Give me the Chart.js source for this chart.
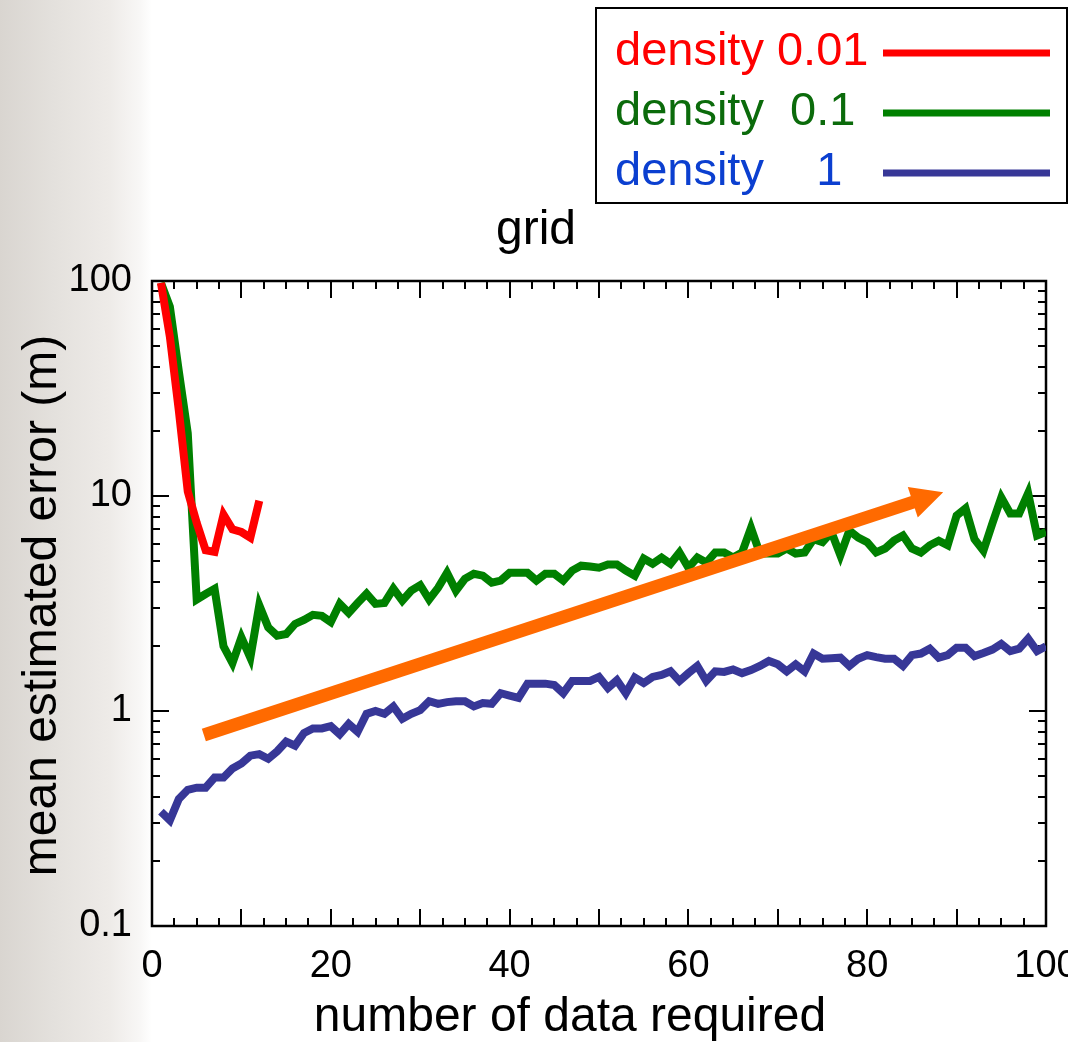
<!DOCTYPE html>
<html><head><meta charset="utf-8">
<script src="https://cdn.jsdelivr.net/npm/chart.js@4/dist/chart.umd.min.js"></script>
<style>
html,body{margin:0;padding:0;}
body{width:1068px;height:1042px;overflow:hidden;background:linear-gradient(to right,#d9d5d0 0px,#e3e0dc 50px,#eeebe8 110px,#f8f7f6 140px,#ffffff 152px);}
#wrap{position:relative;width:1068px;height:1042px;}
</style></head><body><div id="wrap"><canvas id="c" width="1068" height="1042"></canvas></div>
<script>
const xTickLabels = [0, 20, 40, 60, 80, 100];
const yTickValues = [0.1, 1, 10, 100];
const seriesLabels = ['density 0.01', 'density  0.1', 'density    1'];
const chartTitle = 'grid';
const xTitle = 'number of data required';
const yTitle = 'mean estimated error (m)';

// x = 1, 2, 3, ... (number of data required)
const density001 = [98, 55, 25, 10.5, 7.5, 5.6, 5.5, 8.2, 7.0, 6.8, 6.4, 9.5];
const density01 = [98, 76, 38, 19.6, 3.3, 3.5, 3.7, 2.0, 1.67, 2.2,
  1.77, 3.1, 2.45, 2.24, 2.28, 2.54, 2.65, 2.8, 2.77, 2.59,
  3.15, 2.86, 3.18, 3.51, 3.15, 3.18, 3.71, 3.26, 3.63, 3.85,
  3.3, 3.74, 4.39, 3.63, 4.12, 4.35, 4.26, 3.95, 4.04, 4.39,
  4.39, 4.39, 4.04, 4.35, 4.35, 4.04, 4.5, 4.74, 4.7, 4.64,
  4.8, 4.8, 4.5, 4.26, 5.12, 4.84, 5.17, 4.84, 5.46, 4.64,
  5.17, 4.9, 5.46, 5.46, 5.17, 5.46, 7.1, 5.4, 5.4, 5.4,
  5.7, 5.4, 5.46, 6.3, 6.1, 6.8, 5.3, 6.9, 6.4, 6.1,
  5.46, 5.7, 6.2, 6.55, 5.7, 5.46, 5.9, 6.2, 5.9, 8.1,
  8.75, 6.3, 5.57, 7.45, 9.85, 8.3, 8.3, 10.3, 6.55, 6.8];
const density1 = [0.34, 0.31, 0.39, 0.43, 0.44, 0.44, 0.49, 0.49, 0.54, 0.57,
  0.62, 0.63, 0.60, 0.65, 0.72, 0.69, 0.79, 0.83, 0.83, 0.85,
  0.78, 0.87, 0.80, 0.97, 1.0, 0.97, 1.05, 0.92, 0.97, 1.01,
  1.11, 1.08, 1.10, 1.11, 1.11, 1.05, 1.09, 1.08, 1.21, 1.18,
  1.15, 1.34, 1.34, 1.34, 1.32, 1.21, 1.38, 1.38, 1.38, 1.44,
  1.28, 1.39, 1.21, 1.43, 1.35, 1.44, 1.47, 1.53, 1.38, 1.5,
  1.62, 1.38, 1.53, 1.52, 1.56, 1.5, 1.55, 1.62, 1.71, 1.65,
  1.53, 1.65, 1.53, 1.85, 1.75, 1.76, 1.77, 1.62, 1.75, 1.82,
  1.78, 1.75, 1.75, 1.62, 1.82, 1.85, 1.95, 1.77, 1.82, 1.97,
  1.97, 1.8, 1.86, 1.93, 2.05, 1.9, 1.95, 2.17, 1.9, 2.0];

// trend arrow, in data units [x, y]
const arrowFrom = [5.8, 0.773];
const arrowTo = [88.5, 10.4];

const lineColors = ['#ff0000', '#008000', '#373797'];
const textColors = ['#ff0000', '#0b6b0b', '#0b3fd0'];
const FONT = '"Liberation Sans", Arial, Helvetica, sans-serif';

function toPoints(arr) { return arr.map((v, i) => ({x: i + 1, y: v})); }

const decorPlugin = {
  id: 'decor',
  beforeDatasetsDraw(chart) {
    const ctx = chart.ctx;
    const xs = chart.scales.x, ys = chart.scales.y;
    const {left, right, top, bottom} = chart.chartArea;
    ctx.save();
    ctx.strokeStyle = '#000';
    ctx.lineWidth = 2;
    ctx.lineCap = 'butt';
    ctx.beginPath();
    for (let v = xs.min; v <= xs.max + 1e-9; v += 2.5) {
      const px = Math.round(xs.getPixelForValue(v));
      const L = (Math.abs(v % 10) < 1e-9) ? 17 : 8;
      ctx.moveTo(px, bottom); ctx.lineTo(px, bottom - L);
      ctx.moveTo(px, top); ctx.lineTo(px, top + L);
    }
    for (let d = 0.1; d < 100; d *= 10) {
      for (let m = 1; m <= 10; m++) {
        const v = d * m;
        const py = Math.round(ys.getPixelForValue(v));
        const L = (m === 1 || m === 10) ? 17 : 8;
        ctx.moveTo(left, py); ctx.lineTo(left + L, py);
        ctx.moveTo(right, py); ctx.lineTo(right - L, py);
      }
    }
    ctx.stroke();
    ctx.lineWidth = 2.5;
    ctx.strokeRect(left, top, right - left, bottom - top);
    ctx.restore();
  },
  afterDatasetsDraw(chart) {
    const ctx = chart.ctx;
    const xs = chart.scales.x, ys = chart.scales.y;
    const x0 = xs.getPixelForValue(arrowFrom[0]), y0 = ys.getPixelForValue(arrowFrom[1]);
    const x1 = xs.getPixelForValue(arrowTo[0]), y1 = ys.getPixelForValue(arrowTo[1]);
    const dx = x1 - x0, dy = y1 - y0, len = Math.hypot(dx, dy);
    const ux = dx / len, uy = dy / len, nx = -uy, ny = ux;
    const headLen = 32, headHalf = 16;
    const bx = x1 - ux * headLen, by = y1 - uy * headLen;
    ctx.save();
    ctx.strokeStyle = '#ff6a00';
    ctx.fillStyle = '#ff6a00';
    ctx.lineWidth = 13;
    ctx.lineCap = 'butt';
    ctx.beginPath();
    ctx.moveTo(x0, y0);
    ctx.lineTo(bx + ux * 2, by + uy * 2);
    ctx.stroke();
    ctx.beginPath();
    ctx.moveTo(x1, y1);
    ctx.lineTo(bx + nx * headHalf, by + ny * headHalf);
    ctx.lineTo(bx - nx * headHalf, by - ny * headHalf);
    ctx.closePath();
    ctx.fill();
    ctx.restore();
  },
  afterDraw(chart) {
    const ctx = chart.ctx;
    const {left, right, top, bottom} = chart.chartArea;
    ctx.save();
    // title
    ctx.fillStyle = '#000';
    ctx.font = '48px ' + FONT;
    ctx.textAlign = 'center';
    ctx.textBaseline = 'alphabetic';
    ctx.fillText(chartTitle, 536, 244);
    // x title
    ctx.fillText(xTitle, 570, 1031);
    // y title
    ctx.save();
    ctx.translate(56, (top + bottom) / 2 + 2);
    ctx.rotate(-Math.PI / 2);
    ctx.fillText(yTitle, 0, 0);
    ctx.restore();
    // legend box
    ctx.fillStyle = '#fff';
    ctx.fillRect(596, 8, 471, 195);
    ctx.strokeStyle = '#000';
    ctx.lineWidth = 2;
    ctx.strokeRect(596, 8, 471, 195);
    ctx.textAlign = 'left';
    chart.data.datasets.forEach((ds, i) => {
      const yBase = 65 + i * 60;
      ctx.fillStyle = textColors[i];
      ctx.font = '47px ' + FONT;
      ctx.fillText(ds.label, 615, yBase);
      ctx.strokeStyle = ds.borderColor;
      ctx.lineWidth = 7;
      ctx.beginPath();
      ctx.moveTo(883, yBase - 12);
      ctx.lineTo(1050, yBase - 12);
      ctx.stroke();
    });
    ctx.restore();
  }
};

new Chart(document.getElementById('c'), {
  type: 'line',
  data: {
    datasets: [
      {label: seriesLabels[0], data: toPoints(density001), borderColor: lineColors[0], borderWidth: 8, pointRadius: 0, fill: false, tension: 0},
      {label: seriesLabels[1], data: toPoints(density01), borderColor: lineColors[1], borderWidth: 8, pointRadius: 0, fill: false, tension: 0},
      {label: seriesLabels[2], data: toPoints(density1), borderColor: lineColors[2], borderWidth: 8, pointRadius: 0, fill: false, tension: 0}
    ]
  },
  options: {
    responsive: false,
    animation: false,
    devicePixelRatio: 1,
    layout: {padding: {top: 281, right: 22, left: 0, bottom: 0}},
    plugins: {legend: {display: false}, title: {display: false}, tooltip: {enabled: false}},
    scales: {
      x: {
        type: 'linear', min: 0, max: 100,
        grid: {display: false, drawTicks: false},
        border: {display: false},
        afterBuildTicks: s => { s.ticks = xTickLabels.map(v => ({value: v})); },
        ticks: {font: {family: FONT, size: 38}, color: '#000', padding: 18, maxRotation: 0, autoSkip: false},
        afterFit: s => { s.height = 116; s.paddingLeft = 0; s.paddingRight = 0; }
      },
      y: {
        type: 'logarithmic', min: 0.1, max: 100,
        grid: {display: false, drawTicks: false},
        border: {display: false},
        afterBuildTicks: s => { s.ticks = yTickValues.map(v => ({value: v})); },
        ticks: {font: {family: FONT, size: 38}, color: '#000', padding: 20, autoSkip: false, callback: v => String(v)},
        afterFit: s => { s.width = 152; s.paddingTop = 0; s.paddingBottom = 0; }
      }
    }
  },
  plugins: [decorPlugin]
});
</script></body></html>
